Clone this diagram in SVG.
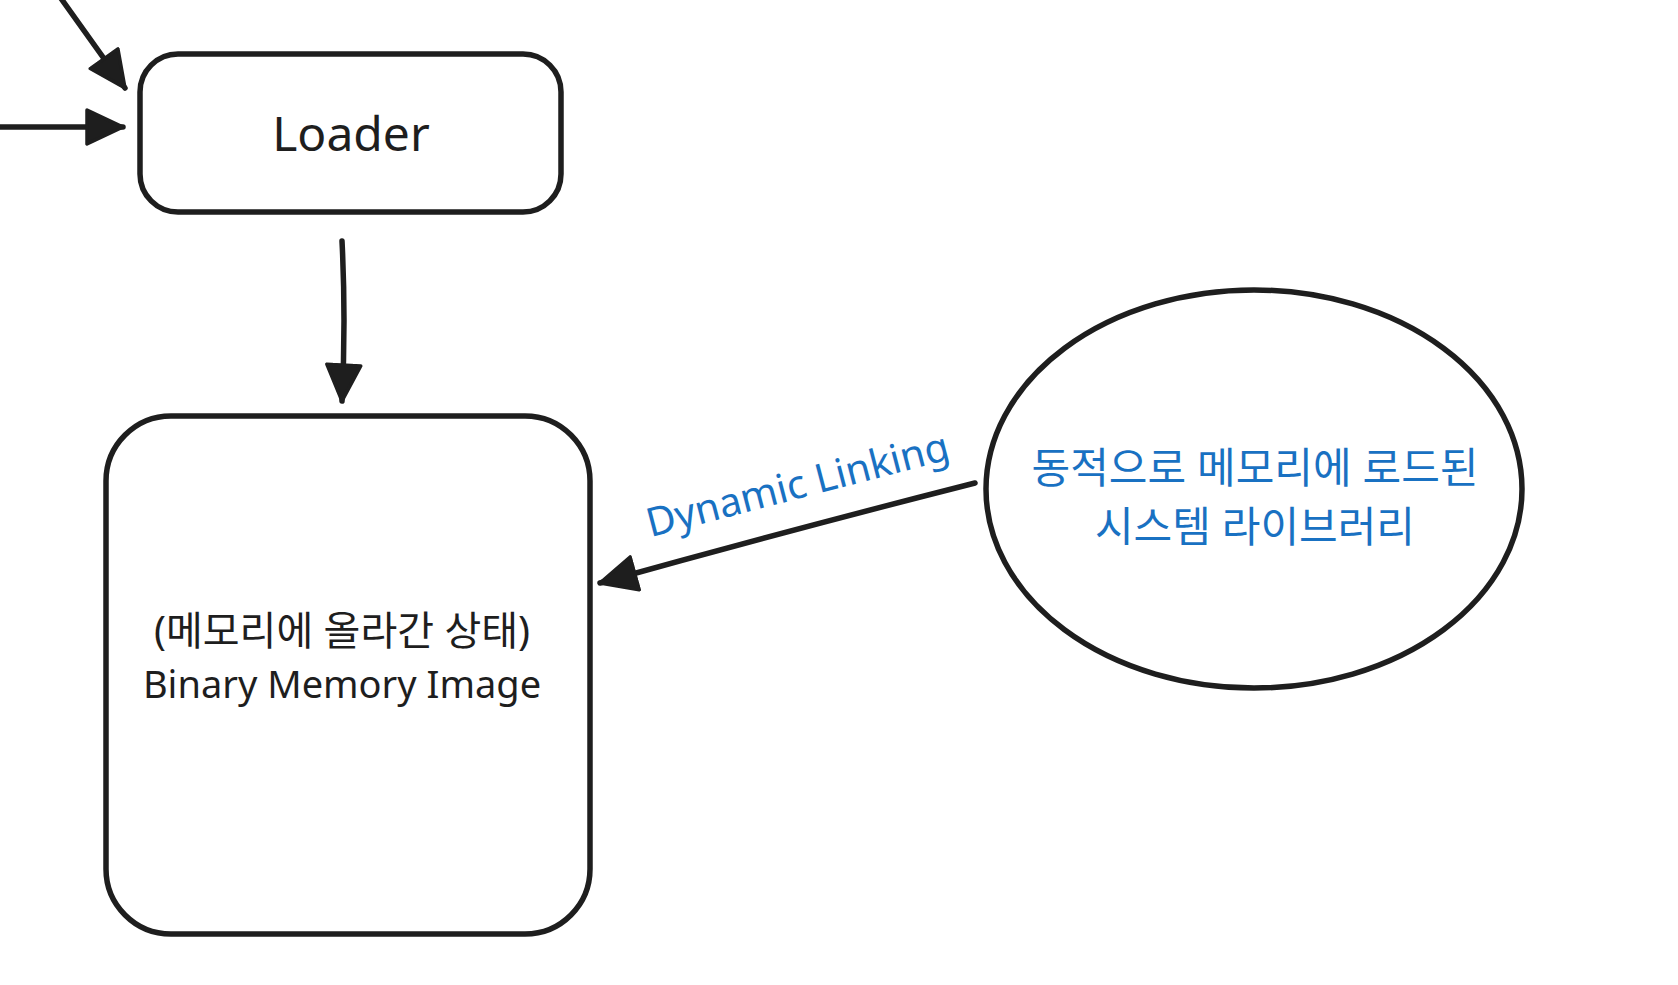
<svg xmlns="http://www.w3.org/2000/svg" width="1678" height="985" viewBox="0 0 1678 985">
<style>
.shape{fill:#ffffff;stroke:#1e1e1e;stroke-width:5.5;stroke-linejoin:round;stroke-linecap:round}
.edge{fill:none;stroke:#1e1e1e;stroke-width:5.5;stroke-linecap:round}
.lbl{font-family:"Noto Sans","Noto Sans CJK KR",sans-serif;fill:#1e1e1e;text-anchor:middle}
.blue{font-family:"Noto Sans","Noto Sans CJK KR",sans-serif;fill:#1971c2;text-anchor:middle}
</style>
<defs>
<marker id="ah" viewBox="0 0 40 38" refX="38" refY="19" markerWidth="40" markerHeight="38" markerUnits="userSpaceOnUse" orient="auto">
<path d="M2,2 L38,19 L2,36 Z" fill="#1e1e1e" stroke="#1e1e1e" stroke-width="3.5" stroke-linejoin="round"/>
</marker>
</defs>
<rect width="1678" height="985" fill="#ffffff"/>
<g id="connectors">
<path class="edge" d="M55,-10 L125,88" marker-end="url(#ah)"/>
<path class="edge" d="M-5,127 L123,127" marker-end="url(#ah)"/>
<path class="edge" d="M342,241 Q346,320 342,401" marker-end="url(#ah)"/>
<path class="edge" d="M975,483 Q790,530 600,583" marker-end="url(#ah)"/>
<text class="blue" font-size="40" transform="translate(801,498) rotate(-14.6)">Dynamic Linking</text>
</g>
<g id="node-loader">
<rect class="shape" x="140" y="54" width="421" height="158" rx="38" ry="38"/>
<text class="lbl" x="351" y="151" font-size="48">Loader</text>
</g>
<g id="node-memory-image">
<rect class="shape" x="106" y="416" width="484" height="518" rx="65" ry="65"/>
<text class="lbl" x="342" y="645" font-size="40">(메모리에 올라간 상태)</text>
<text class="lbl" x="342" y="698" font-size="38">Binary Memory Image</text>
</g>
<g id="node-system-library">
<ellipse class="shape" cx="1254" cy="489" rx="268" ry="199"/>
<text class="blue" x="1255" y="483" font-size="42">동적으로 메모리에 로드된</text>
<text class="blue" x="1255" y="542" font-size="42">시스템 라이브러리</text>
</g>
</svg>
